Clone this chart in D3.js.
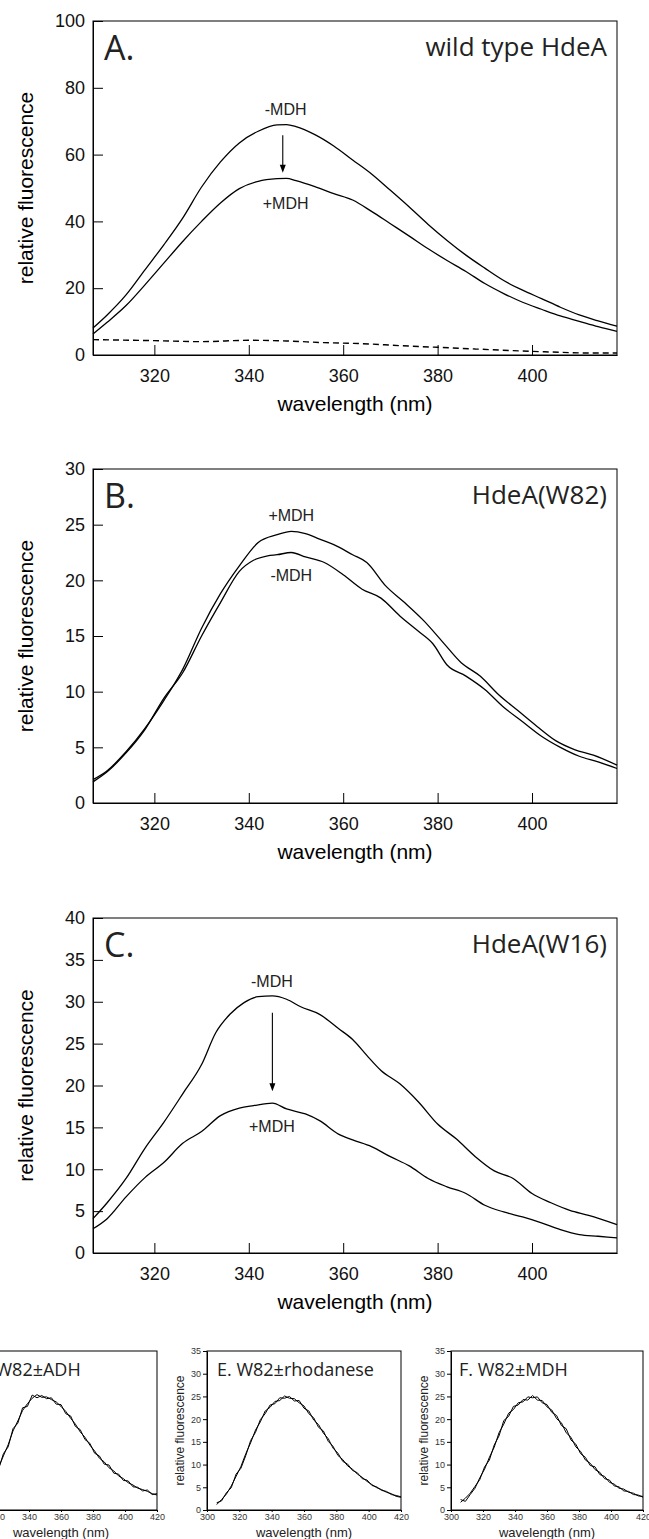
<!DOCTYPE html>
<html><head><meta charset="utf-8">
<script src="https://cdn.jsdelivr.net/npm/d3@7"></script>
<style>body{margin:0;background:#fff} svg{display:block}</style>
</head><body>
<svg id="c" width="649" height="1539"></svg>
<script>
// ---------- DATA ----------
// Panel A: wild type HdeA
const wlA = [307,310,314,318,322,326,330,334,338,342,346,348,350,354,358,362,366,370,374,378,382,386,390,394,398,402,406,410,414,418];
const A_minus = [8.1,12.0,18.0,25.5,33.0,41.0,50.3,57.8,63.5,67.0,68.9,69.0,68.4,66.0,62.6,58.4,54.2,49.3,44.3,39.1,34.3,29.9,26.0,22.3,19.4,16.9,14.3,12.0,10.2,8.6];
const A_plus  = [6.3,9.8,14.8,21.0,27.5,34.0,40.0,45.5,49.8,52.0,52.8,52.9,52.2,50.4,48.3,46.4,43.0,39.3,35.6,31.8,28.3,25.0,21.4,18.4,15.8,13.7,11.7,10.1,8.5,7.1];
const wlA_base = [307,320,330,340,348,356,364,372,380,388,396,404,412,418];
const A_base   = [4.6,4.3,4.0,4.4,4.2,3.7,3.4,2.8,2.3,1.8,1.3,0.9,0.6,0.6];
// Panel B: HdeA(W82)
const wlB_plus = [307,310,314,318,322,326,330,334,338,342,346,349,352,355,358,362,365,369,373,377,381,385,389,393,397,401,405,409,413,418];
const B_plus   = [2.1,2.9,4.6,6.7,9.2,12.0,15.7,18.8,21.3,23.4,24.1,24.4,24.2,23.7,23.2,22.3,21.6,19.5,18.0,16.4,14.5,12.6,11.4,9.7,8.3,6.9,5.6,4.8,4.3,3.4];
const wlB_minus = [307,310,314,318,322,326,330,334,338,341,344,346,349,352,356,360,364,368,372,376,379,382,386,390,394,398,402,406,410,414,418];
const B_minus   = [1.9,2.8,4.5,6.6,9.4,11.7,15.0,18.0,20.8,21.8,22.2,22.3,22.5,22.1,21.6,20.5,19.2,18.4,16.8,15.4,14.3,12.4,11.4,10.2,8.6,7.3,6.0,5.0,4.2,3.7,3.1];
// Panel C: HdeA(W16)
const wlC_minus = [307,310,314,318,322,326,330,333,336,339,342,345,348,351,355,359,362,365,368,372,376,380,384,388,392,396,400,404,408,412,418];
const C_minus   = [4.1,6.0,8.9,12.5,15.6,19.0,22.5,26.3,28.5,29.9,30.6,30.7,30.3,29.4,28.5,26.8,25.5,23.6,21.8,20.2,18.0,15.4,13.6,11.5,9.8,8.9,7.1,6.0,5.1,4.5,3.4];
const wlC_plus = [307,310,314,318,322,326,330,334,338,341,345,348,352,355,359,362,366,370,374,378,382,386,390,394,398,402,406,410,414,418];
const C_plus   = [2.9,4.1,6.7,9.0,10.8,13.1,14.5,16.4,17.3,17.6,17.9,17.2,16.6,15.8,14.2,13.5,12.7,11.5,10.4,8.9,7.9,7.1,5.7,4.9,4.3,3.6,2.8,2.2,2.0,1.8];
// Bottom panels D, E, F (two traces each)
const wlSmall = [306,309,312,315,318,321,324,327,330,333,336,339,342,345,348,351,354,357,360,363,366,369,372,375,378,381,384,387,390,393,396,399,402,405,408,411,414,417,420];
const D_1 = [1.8,2.5,3.6,5.1,7.0,9.4,11.9,14.4,17.4,19.6,21.9,23.4,24.6,25.4,24.8,24.9,24.3,23.8,22.8,21.7,20.2,18.9,17.2,16.0,14.3,13.0,11.4,10.6,9.3,8.6,7.5,6.9,6.0,5.5,4.8,4.5,4.1,3.6,3.3];
const D_2 = [2.1,2.2,3.9,4.8,7.4,9.0,12.4,13.9,17.9,19.1,22.5,22.8,25.3,24.7,25.2,24.5,24.7,23.3,23.2,21.2,20.7,18.4,17.7,15.5,14.7,12.5,11.9,10.1,9.9,8.1,7.9,6.5,6.4,5.1,5.0,4.2,4.4,3.4,3.6];
const E_1 = [1.2,2.3,3.5,5.3,7.4,9.6,12.4,14.8,17.6,19.4,21.8,22.6,23.9,24.1,25.1,24.6,24.5,23.6,22.9,21.2,20.3,18.2,17.4,15.1,14.0,12.0,11.1,9.7,9.0,7.9,7.2,6.3,5.6,4.9,4.5,3.9,3.6,3.0,2.8];
const E_2 = [1.6,2.0,3.8,4.9,7.9,9.2,12.0,15.3,17.1,19.9,21.2,23.1,23.4,24.7,24.6,25.0,24.0,24.1,22.4,21.8,19.8,18.8,16.9,15.7,13.6,12.5,10.7,10.1,8.7,8.2,6.9,6.6,5.4,5.1,4.3,4.1,3.4,3.2,2.9];
const F_1 = [2.3,1.9,3.4,4.8,7.1,9.0,11.6,13.8,17.0,18.9,21.3,22.1,23.6,23.8,24.9,24.7,24.9,23.6,23.2,21.5,20.8,18.6,17.9,15.4,14.5,12.4,11.6,9.8,9.5,7.8,7.4,6.1,5.7,4.8,4.6,3.9,3.7,3.1,3.0];
const F_2 = [1.7,2.6,3.7,5.2,6.7,9.5,11.0,14.3,16.3,19.7,20.6,22.8,23.1,24.3,24.2,25.2,24.2,24.1,22.7,22.0,20.1,19.2,17.0,16.0,13.9,12.9,11.0,10.3,8.9,8.3,6.9,6.6,5.3,5.1,4.2,4.1,3.4,3.3,2.8];

// Tick values
const bigXTicks = [320,340,360,380,400];
const yTicksA = [0,20,40,60,80,100];
const yTicksB = [0,5,10,15,20,25,30];
const yTicksC = [0,5,10,15,20,25,30,35,40];
const smallXTicks = [300,320,340,360,380,400,420];
const smallYTicks = [0,5,10,15,20,25,30,35];

// ---------- DRAWING ----------
const W = 649;
const svg = d3.select("#c");
const tickFont = "Liberation Sans, Arial, sans-serif";
const titleFont = "'Open Sans', sans-serif";

function zipXY(xs, ys){ return xs.map((x,i)=>[x, ys[i]]); }

function bigPanel(o){
  const L = 93, R = 617;
  const x = d3.scaleLinear().domain([307,418]).range([L,R]);
  const y = d3.scaleLinear().domain([0,o.ymax]).range([o.y0, o.ytop]);
  const g = svg.append("g");
  g.append("rect").attr("x",L).attr("y",o.ytop).attr("width",R-L).attr("height",o.y0-o.ytop)
    .attr("fill","none").attr("stroke","#000").attr("stroke-width",1);
  const xa = g.append("g").attr("transform",`translate(0,${o.y0})`)
    .call(d3.axisBottom(x).tickValues(bigXTicks).tickSizeInner(-10).tickSizeOuter(0).tickPadding(14));
  const ya = g.append("g").attr("transform",`translate(${L},0)`)
    .call(d3.axisLeft(y).tickValues(o.yticks).tickSizeInner(-10).tickSizeOuter(0).tickPadding(8));
  [xa,ya].forEach(a=>{
    a.select(".domain").attr("stroke","#000");
    a.selectAll("line").attr("stroke","#000");
    a.selectAll("text").attr("font-family",tickFont).attr("font-size",18).attr("fill","#111");
  });
  xa.selectAll("text").attr("dy","0.71em");
  g.append("text").attr("x",(L+R)/2).attr("y",o.y0+56).attr("text-anchor","middle")
    .attr("font-family",tickFont).attr("font-size",21).text("wavelength (nm)");
  g.append("text").attr("transform",`translate(26,${(o.y0+o.ytop)/2}) rotate(-90)`)
    .attr("text-anchor","middle").attr("dy","0.35em")
    .attr("font-family",tickFont).attr("font-size",21).text("relative fluorescence");
  g.append("text").attr("x",L+11).attr("y",o.ytop+39).attr("font-family",titleFont)
    .attr("font-size",34).attr("fill","#222").text(o.letter);
  g.append("text").attr("x",R-10).attr("y",o.ytop+35).attr("text-anchor","end").attr("font-family",titleFont)
    .attr("font-size",26).attr("fill","#222").text(o.name);
  const line = d3.line().x(d=>x(d[0])).y(d=>y(d[1])).curve(d3.curveMonotoneX);
  o.series.forEach(s=>{
    g.append("path").attr("d",line(s.data)).attr("fill","none").attr("stroke","#000")
      .attr("stroke-width",s.w||1.3).attr("stroke-dasharray",s.dash||null);
  });
  o.labels.forEach(l=>{
    g.append("text").attr("x",x(l[0])).attr("y",y(l[1])).attr("text-anchor","middle").attr("dy","0.35em")
      .attr("font-family",tickFont).attr("font-size",16).attr("fill","#222").text(l[2]);
  });
  if(o.arrow){
    const [ax,a1,a2]=o.arrow;
    const xx=x(ax), yA=y(a1), yB=y(a2);
    g.append("line").attr("x1",xx).attr("x2",xx).attr("y1",yA).attr("y2",yB-6).attr("stroke","#000").attr("stroke-width",1.1);
    g.append("path").attr("d",`M${xx-3},${yB-8} L${xx+3},${yB-8} L${xx},${yB} Z`).attr("fill","#000");
  }
}

bigPanel({ytop:21, y0:355, ymax:100, yticks:yTicksA, letter:"A.", name:"wild type HdeA",
  series:[{data:zipXY(wlA,A_minus)},{data:zipXY(wlA,A_plus)},{data:zipXY(wlA_base,A_base),dash:"6,4",w:1.4}],
  labels:[[347.8,73.5,"-MDH"],[347.8,45.4,"+MDH"]], arrow:[347.2,65.8,54.6]});
bigPanel({ytop:469, y0:803, ymax:30, yticks:yTicksB, letter:"B.", name:"HdeA(W82)",
  series:[{data:zipXY(wlB_plus,B_plus)},{data:zipXY(wlB_minus,B_minus)}],
  labels:[[349,25.8,"+MDH"],[349,20.4,"-MDH"]]});
bigPanel({ytop:918, y0:1253, ymax:40, yticks:yTicksC, letter:"C.", name:"HdeA(W16)",
  series:[{data:zipXY(wlC_minus,C_minus)},{data:zipXY(wlC_plus,C_plus)}],
  labels:[[344.9,32.4,"-MDH"],[344.9,15.1,"+MDH"]], arrow:[345,28.7,19.3]});

function smallPanel(o){
  const x = d3.scaleLinear().domain([300,420]).range([o.left,o.right]);
  const y = d3.scaleLinear().domain([0,35]).range([1510,1351]);
  const g = svg.append("g");
  g.append("rect").attr("x",o.left).attr("y",1351).attr("width",o.right-o.left).attr("height",1510-1351)
    .attr("fill","none").attr("stroke","#000").attr("stroke-width",1);
  const xa = g.append("g").attr("transform","translate(0,1510)")
    .call(d3.axisBottom(x).tickValues(smallXTicks).tickSizeInner(2).tickSizeOuter(0).tickPadding(2));
  const ya = g.append("g").attr("transform",`translate(${o.left},0)`)
    .call(d3.axisLeft(y).tickValues(smallYTicks).tickSizeInner(4).tickSizeOuter(0).tickPadding(2));
  [xa,ya].forEach(a=>{
    a.selectAll("line").attr("stroke","#000");
    a.selectAll("text").attr("font-family",tickFont).attr("font-size",9).attr("fill","#333");
  });
  // labels lying wholly outside the picture are not drawn (the reference crops them away)
  [xa,ya].forEach(a=>a.selectAll(".tick").each(function(){
    const bb=this.getBBox(), m=this.getCTM();
    if(m && m.e+bb.x+bb.width < 0) d3.select(this).select("text").remove();
  }));
  g.append("text").attr("x",(o.left+o.right)/2).attr("y",1537).attr("text-anchor","middle")
    .attr("font-family",tickFont).attr("font-size",13).attr("fill","#222").text("wavelength (nm)");
  if(o.left-27 > 0){
    g.append("text").attr("transform",`translate(${o.left-27},${(1351+1510)/2}) rotate(-90)`)
      .attr("text-anchor","middle").attr("dy","0.35em")
      .attr("font-family",tickFont).attr("font-size",12).attr("fill","#222").text("relative fluorescence");
  }
  g.append("text").attr("x",o.left+o.tx).attr("y",1376).attr("font-family",titleFont)
    .attr("font-size",18).attr("fill","#222").text(o.name);
  const line = d3.line().x(d=>x(d[0])).y(d=>y(d[1]));
  o.series.forEach(s=>{
    g.append("path").attr("d",line(zipXY(wlSmall,s))).attr("fill","none").attr("stroke","#000").attr("stroke-width",1);
  });
}
smallPanel({left:-35,right:157,tx:8,name:"D. W82±ADH",series:[D_1,D_2]});
smallPanel({left:207,right:401,tx:10,name:"E. W82±rhodanese",series:[E_1,E_2]});
smallPanel({left:451,right:643,tx:8,name:"F. W82±MDH",series:[F_1,F_2]});
</script>
</body></html>
